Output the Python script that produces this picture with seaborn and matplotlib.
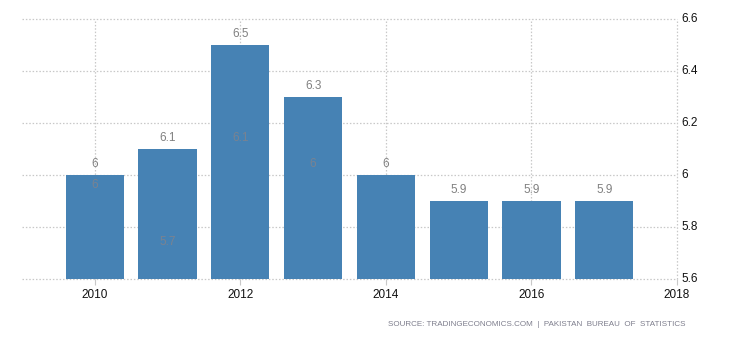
import matplotlib
matplotlib.use("Agg")
import matplotlib.pyplot as plt
import pandas as pd
import seaborn as sns

# Annual values
years = [2010, 2011, 2012, 2013, 2014, 2015, 2016, 2017]
values = [6.0, 6.1, 6.5, 6.3, 6.0, 5.9, 5.9, 5.9]

# Earlier estimates shown faintly inside the first bars
prev_years = [2010, 2011, 2012, 2013]
prev_values = [5.92, 5.7, 6.1, 6.0]
prev_labels = ["6", "5.7", "6.1", "6"]

yticks = [5.6, 5.8, 6.0, 6.2, 6.4, 6.6]
ytick_labels = ["5.6", "5.8", "6", "6.2", "6.4", "6.6"]
xticks = [2010, 2012, 2014, 2016, 2018]

sns.set_theme(style="white")
plt.rcParams["font.family"] = ["Liberation Sans", "DejaVu Sans"]

df = pd.DataFrame({"year": years, "value": values})

fig = plt.figure(figsize=(7.3, 3.4), dpi=100)
ax = fig.add_axes([22 / 730, 1 - 279 / 340, (677 - 22) / 730, (279 - 19) / 340])

bar_color = "#4682b4"
ax.bar(df["year"], df["value"] - 5.6, bottom=5.6, width=0.8,
       color=bar_color, linewidth=0, edgecolor="none", zorder=2)
sns.despine(ax=ax, left=True, right=True, top=True, bottom=True)

ax.set_xlim(2009, 2018)
ax.set_ylim(5.6, 6.6)

grid_kw = dict(color="#c8c8c8", linestyle=(0, (1.2, 1.5)), linewidth=0.9,
               zorder=0, clip_on=False)
for y in yticks:
    ax.axhline(y, **grid_kw)
for x in xticks:
    ax.axvline(x, **grid_kw)

ax.yaxis.tick_right()
ax.set_yticks(yticks)
ax.set_yticklabels(ytick_labels)
ax.set_xticks(xticks)
ax.set_xticklabels([str(x) for x in xticks])
ax.tick_params(axis="y", length=0, pad=3, labelsize=8.5, labelcolor="#111111")
ax.tick_params(axis="x", length=4, width=0.8, color="#c8c8c8", pad=3,
               labelsize=8.5, labelcolor="#111111", direction="out",
               bottom=True)
for lbl in ax.get_yticklabels():
    lbl.set_verticalalignment("center")

# Value labels above bars
for x, v in zip(years, values):
    ax.annotate(f"{v:g}", (x, v), xytext=(0, 3.5), textcoords="offset points",
                ha="center", va="bottom", fontsize=8.5, color="#808080", zorder=3)

# Faint labels inside the bars
for x, v, t in zip(prev_years, prev_values, prev_labels):
    ax.annotate(t, (x, v), xytext=(0, 3.5), textcoords="offset points",
                ha="center", va="bottom", fontsize=8.5, color="#7a8391", zorder=3)

ax.set_xlabel("")
ax.set_ylabel("")

fig.text(685 / 730, 1 - 325 / 340,
         "SOURCE: TRADINGECONOMICS.COM  |  PAKISTAN  BUREAU  OF  STATISTICS",
         ha="right", va="center", fontsize=5.8, color="#7d7d8c")

fig.savefig("out.png", dpi=100)
